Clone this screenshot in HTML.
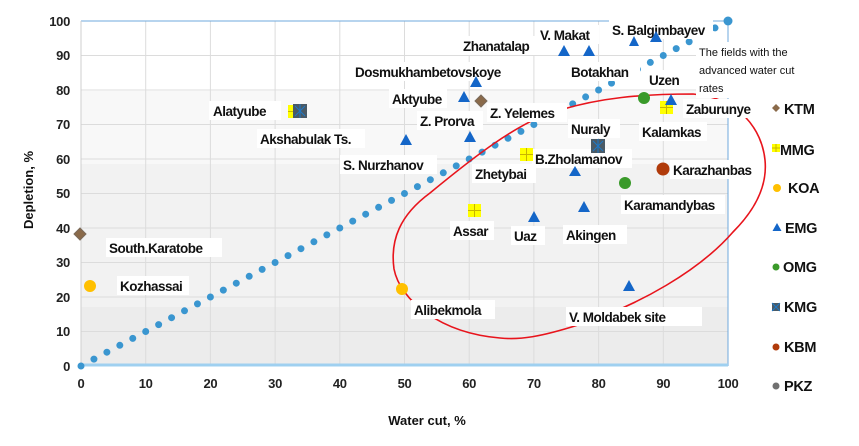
<!DOCTYPE html>
<html><head><meta charset="utf-8"><style>
html,body{margin:0;padding:0;background:#fff;}
svg{display:block;font-family:"Liberation Sans",Arial,sans-serif;}
.l{font-size:13.5px;font-weight:bold;fill:#111;letter-spacing:-0.5px;}
.t{font-size:13px;font-weight:bold;fill:#222;letter-spacing:-0.3px;}
.g{font-size:14.5px;font-weight:bold;fill:#111;letter-spacing:-0.3px;}
</style></head><body>
<svg width="859" height="446" viewBox="0 0 859 446">
<rect x="81" y="21" width="647" height="70" fill="#ffffff"/>
<rect x="81" y="91" width="647" height="73" fill="#f8f8f8"/>
<rect x="81" y="164" width="647" height="143" fill="#f2f2f2"/>
<rect x="81" y="307" width="647" height="59" fill="#ececec"/>
<g stroke="#dcdcdc" stroke-width="1">
<line x1="145.7" y1="21" x2="145.7" y2="366"/><line x1="210.4" y1="21" x2="210.4" y2="366"/><line x1="275.1" y1="21" x2="275.1" y2="366"/><line x1="339.8" y1="21" x2="339.8" y2="366"/><line x1="404.5" y1="21" x2="404.5" y2="366"/><line x1="469.2" y1="21" x2="469.2" y2="366"/><line x1="533.9" y1="21" x2="533.9" y2="366"/><line x1="598.6" y1="21" x2="598.6" y2="366"/><line x1="663.3" y1="21" x2="663.3" y2="366"/>
<line x1="81" y1="55.5" x2="728" y2="55.5"/><line x1="81" y1="90" x2="728" y2="90"/><line x1="81" y1="124.5" x2="728" y2="124.5"/><line x1="81" y1="159" x2="728" y2="159"/><line x1="81" y1="193.5" x2="728" y2="193.5"/><line x1="81" y1="228" x2="728" y2="228"/><line x1="81" y1="262.5" x2="728" y2="262.5"/><line x1="81" y1="297" x2="728" y2="297"/><line x1="81" y1="331.5" x2="728" y2="331.5"/>
</g>
<line x1="81" y1="21" x2="728" y2="21" stroke="#6fa8dc" stroke-width="1"/>
<line x1="728" y1="21" x2="728" y2="366" stroke="#6fa8dc" stroke-width="1"/>
<line x1="81" y1="21" x2="81" y2="366" stroke="#cfcfcf" stroke-width="1"/>
<line x1="81" y1="365" x2="728" y2="365" stroke="#9fd0f0" stroke-width="3"/>
<line x1="81" y1="366" x2="728" y2="21" stroke="#3a96d0" stroke-width="7" stroke-linecap="round" stroke-dasharray="0 14.664"/>
<circle cx="728" cy="21" r="4.5" fill="#3a96d0"/>
<path d="M394,269 C390,240 400,215 430,193 C470,160 520,120 560,110 C600,98 640,94 693,94 C740,98 762,130 765,160 C768,190 750,215 733,232 C700,270 640,305 578,325 C540,337 520,340 500,338 C440,333 400,300 394,269 Z" fill="none" stroke="#e8141c" stroke-width="1.6"/>
<g fill="#fff">
<rect x="209" y="101" width="72" height="19"/><rect x="257" y="129" width="108" height="19"/><rect x="340" y="155" width="97" height="19"/>
<rect x="352" y="62" width="148" height="19"/><rect x="389" y="89" width="58" height="19"/><rect x="417" y="111" width="66" height="19"/>
<rect x="460" y="36" width="80" height="19"/><rect x="537" y="25" width="62" height="19"/><rect x="609" y="20" width="104" height="19"/>
<rect x="568" y="62" width="72" height="19"/><rect x="646" y="70" width="44" height="19"/><rect x="696" y="42" width="118" height="56"/>
<rect x="487" y="103" width="80" height="19"/><rect x="683" y="99" width="82" height="19"/><rect x="568" y="119" width="52" height="19"/>
<rect x="639" y="122" width="68" height="19"/><rect x="532" y="149" width="100" height="19"/><rect x="472" y="164" width="64" height="19"/>
<rect x="670" y="160" width="88" height="19"/><rect x="621" y="195" width="104" height="19"/><rect x="450" y="221" width="44" height="19"/>
<rect x="511" y="226" width="34" height="19"/><rect x="563" y="225" width="64" height="19"/><rect x="106" y="238" width="116" height="19"/>
<rect x="117" y="276" width="72" height="19"/><rect x="411" y="300" width="84" height="19"/><rect x="566" y="307" width="136" height="19"/>
</g>
<g class="l">
<text x="213" y="116">Alatyube</text><text x="260" y="144">Akshabulak Ts.</text><text x="343" y="170">S. Nurzhanov</text>
<text x="355" y="77">Dosmukhambetovskoye</text><text x="392" y="104">Aktyube</text><text x="420" y="126">Z. Prorva</text>
<text x="463" y="51">Zhanatalap</text><text x="540" y="40">V. Makat</text><text x="612" y="35">S. Balgimbayev</text>
<text x="571" y="77">Botakhan</text><text x="649" y="85">Uzen</text>
<text x="490" y="118">Z. Yelemes</text><text x="686" y="114">Zaburunye</text><text x="571" y="134">Nuraly</text>
<text x="642" y="137">Kalamkas</text><text x="535" y="164">B.Zholamanov</text><text x="475" y="179">Zhetybai</text>
<text x="673" y="175">Karazhanbas</text><text x="624" y="210">Karamandybas</text><text x="453" y="236">Assar</text>
<text x="514" y="241">Uaz</text><text x="566" y="240">Akingen</text><text x="109" y="253">South.Karatobe</text>
<text x="120" y="291">Kozhassai</text><text x="414" y="315">Alibekmola</text><text x="569" y="322">V. Moldabek site</text>
</g>
<g font-size="11" fill="#111"><text x="699" y="56">The fields with the</text><text x="699" y="74">advanced water cut</text><text x="699" y="92">rates</text></g>
<g fill="#8a6a4a" stroke="#7a6a5a"><path d="M80,228 l6,6 -6,6 -6,-6z"/><path d="M481,95 l6,6 -6,6 -6,-6z"/></g>
<g><rect x="288" y="105" width="13" height="13" fill="#ffff00"/><rect x="468" y="204" width="13" height="13" fill="#ffff00"/><rect x="520" y="148" width="13" height="13" fill="#ffff00"/><rect x="660" y="101" width="13" height="13" fill="#ffff00"/>
<path d="M294.5,105v13M288,111.5h13M474.5,204v13M468,210.5h13M526.5,148v13M520,154.5h13M666.5,101v13M660,107.5h13" stroke="#c8b400" stroke-width="1"/></g>
<g fill="#ffc000"><circle cx="90" cy="286" r="6"/><circle cx="402" cy="289" r="6"/></g>
<g fill="#1466c8">
<path d="M406,134l6,11h-12z"/><path d="M470,131l6,11h-12z"/><path d="M464,91l6,11h-12z"/><path d="M476,76l6,11h-12z"/>
<path d="M564,45l6,11h-12z"/><path d="M589,45l6,11h-12z"/><path d="M634,36l5,10h-10z"/><path d="M656,31l6,11h-12z"/>
<path d="M671,94l6,11h-12z"/><path d="M575,166l6,10h-12z"/><path d="M584,201l6,11h-12z"/><path d="M534,211l6,11h-12z"/><path d="M629,280l6,11h-12z"/>
</g>
<g fill="#3a9a2a"><circle cx="644" cy="98" r="6"/><circle cx="625" cy="183" r="6"/></g>
<g><rect x="293" y="104" width="14" height="14" fill="#4a5a66"/><rect x="591" y="139" width="14" height="14" fill="#4a5a66"/>
<path d="M295,106l10,10M305,106l-10,10M300,104v14M593,141l10,10M603,141l-10,10M598,139v14" stroke="#1e78c8" stroke-width="1"/></g>
<circle cx="663" cy="169" r="6.5" fill="#b03a0a"/>
<g class="t" text-anchor="end">
<text x="70" y="26">100</text><text x="70" y="60">90</text><text x="70" y="95">80</text><text x="70" y="129">70</text><text x="70" y="164">60</text><text x="70" y="198">50</text><text x="70" y="233">40</text><text x="70" y="267">30</text><text x="70" y="302">20</text><text x="70" y="336">10</text><text x="70" y="371">0</text>
</g>
<g class="t" text-anchor="middle">
<text x="81" y="388">0</text><text x="145.7" y="388">10</text><text x="210.4" y="388">20</text><text x="275.1" y="388">30</text><text x="339.8" y="388">40</text><text x="404.5" y="388">50</text><text x="469.2" y="388">60</text><text x="533.9" y="388">70</text><text x="598.6" y="388">80</text><text x="663.3" y="388">90</text><text x="728" y="388">100</text>
</g>
<text x="427" y="425" text-anchor="middle" font-size="13" font-weight="bold" fill="#111">Water cut, %</text>
<text transform="translate(33,190) rotate(-90)" text-anchor="middle" font-size="13" font-weight="bold" fill="#111">Depletion, %</text>
<path d="M776,104l4,4 -4,4 -4,-4z" fill="#8a6a4a"/>
<rect x="772" y="144" width="8" height="8" fill="#ffff00"/><path d="M776,144v8M772,148h8" stroke="#c8b400"/>
<circle cx="777" cy="188" r="4" fill="#ffc000"/>
<path d="M777,223l4.5,8h-9z" fill="#1466c8"/>
<circle cx="776" cy="267" r="3.5" fill="#3a9a2a"/>
<rect x="772" y="303" width="8" height="8" fill="#4a5a66"/><path d="M772,303l8,8M780,303l-8,8" stroke="#1e78c8"/>
<circle cx="776" cy="347" r="3.5" fill="#b03a0a"/>
<circle cx="776" cy="386" r="3.5" fill="#707070"/>
<g class="g">
<text x="784" y="114">KTM</text><text x="780" y="155">MMG</text><text x="788" y="193">KOA</text><text x="785" y="233">EMG</text><text x="783" y="272">OMG</text><text x="784" y="312">KMG</text><text x="784" y="352">KBM</text><text x="784" y="391">PKZ</text>
</g>
</svg>
</body></html>
